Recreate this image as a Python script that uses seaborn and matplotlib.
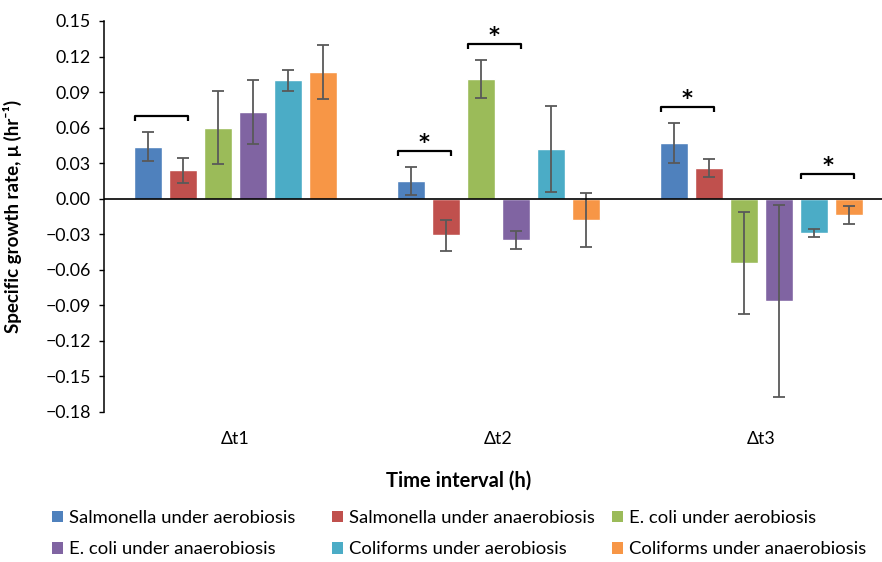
import numpy as np
import pandas as pd
import matplotlib
matplotlib.use("Agg")
import matplotlib.pyplot as plt
import matplotlib.patches as mpatches
from matplotlib.ticker import FuncFormatter, FixedLocator
import seaborn as sns

# ---------------- data ----------------
intervals = ["Δt1", "Δt2", "Δt3"]
series = [
    "Salmonella under aerobiosis",
    "Salmonella under anaerobiosis",
    "E. coli under aerobiosis",
    "E. coli under anaerobiosis",
    "Coliforms under aerobiosis",
    "Coliforms under anaerobiosis",
]
colors = ["#4F81BD", "#C0504D", "#9BBB59", "#8064A2", "#4BACC6", "#F79646"]

sal_aer = [0.044, 0.015, 0.047]
sal_anaer = [0.024, -0.031, 0.026]
eco_aer = [0.060, 0.101, -0.054]
eco_anaer = [0.073, -0.035, -0.086]
col_aer = [0.100, 0.042, -0.029]
col_anaer = [0.107, -0.018, -0.014]

sal_aer_err = [0.012, 0.012, 0.017]
sal_anaer_err = [0.0105, 0.013, 0.0076]
eco_aer_err = [0.031, 0.016, 0.043]
eco_anaer_err = [0.027, 0.0076, 0.081]
col_aer_err = [0.009, 0.036, 0.0034]
col_anaer_err = [0.023, 0.0225, 0.0076]

values = [sal_aer, sal_anaer, eco_aer, eco_anaer, col_aer, col_anaer]
errors = [sal_aer_err, sal_anaer_err, eco_aer_err, eco_anaer_err, col_aer_err, col_anaer_err]

# significance brackets: (interval index, series a, series b, bracket height, asterisk)
brackets = [
    (0, 0, 1, 0.0694, False),
    (1, 0, 1, 0.0400, True),
    (1, 2, 3, 0.1310, True),
    (2, 0, 1, 0.0775, True),
    (2, 4, 5, 0.0208, True),
]

y_ticks = [-0.18, -0.15, -0.12, -0.09, -0.06, -0.03, 0.00, 0.03, 0.06, 0.09, 0.12, 0.15]

# ---------------- figure ----------------
sns.set_theme(style="white")
plt.rcParams["font.family"] = ["Lato", "DejaVu Sans"]
plt.rcParams["axes.unicode_minus"] = True

W, H = 882, 562
fig = plt.figure(figsize=(W / 100, H / 100), dpi=100)
ax_left, ax_right, ax_top, ax_bottom = 104, 882, 21, 412
ax = fig.add_axes([ax_left / W, 1 - ax_bottom / H, (ax_right - ax_left) / W, (ax_bottom - ax_top) / H])

rows = []
for s, vals in zip(series, values):
    for iv, v in zip(intervals, vals):
        rows.append({"interval": iv, "series": s, "value": v})
df = pd.DataFrame(rows)

sns.barplot(data=df, x="interval", y="value", hue="series", order=intervals,
            hue_order=series, palette=colors, width=0.8, gap=0.2,
            errorbar=None, legend=False, ax=ax, saturation=1)

# error bars using bar centers
bar_containers = list(ax.containers)
bar_centers = []
bar_width = bar_containers[0].patches[0].get_width()
for i, cont in enumerate(bar_containers):
    centers = [p.get_x() + p.get_width() / 2 for p in cont.patches]
    bar_centers.append(centers)
for i, centers in enumerate(bar_centers):
    ax.errorbar(centers, values[i], yerr=errors[i], fmt="none",
                ecolor="#595959", elinewidth=1.3, capsize=4.5, capthick=1.3, zorder=3)

# axes formatting
ax.set_xlim(-0.5, -0.5 + (ax_right - ax_left) / 263.0)
ax.set_ylim(-0.18, 0.15)
ax.yaxis.set_major_locator(FixedLocator(y_ticks))
ax.yaxis.set_major_formatter(FuncFormatter(lambda v, p: f"{v:.2f}".replace("-", "\u2212")))
ax.axhline(0, color="black", lw=1.2, zorder=4)
for side in ["top", "right", "bottom"]:
    ax.spines[side].set_visible(False)
ax.spines["left"].set_color("black")
ax.spines["left"].set_linewidth(1.1)
ax.tick_params(axis="y", direction="out", length=3.5, width=1, color="black",
               pad=6, labelsize=12.8, labelcolor="black", left=True)
ax.tick_params(axis="x", length=0, pad=14, labelsize=12.8, labelcolor="black")

ax.set_ylabel("Specific growth rate, μ (hr⁻¹)", fontsize=13.5, fontweight="bold", color="black")
ax.yaxis.set_label_coords((22 - ax_left) / (ax_right - ax_left), 0.5)
ax.set_xlabel("Time interval (h)", fontsize=14.5, fontweight="bold", color="black")
ax.xaxis.label.set_va("center")
ax.xaxis.set_label_coords((459 - ax_left) / (ax_right - ax_left), (ax_bottom - 481) / (ax_bottom - ax_top))

# brackets and asterisks
px_y = 0.33 / (ax_bottom - ax_top)   # data units per pixel (y)
px_x = 1 / 263.0
leg = 5 * px_y
for g, a, b, yb, star in brackets:
    x0 = bar_centers[a][g] - bar_width / 2 + 1 * px_x
    x1 = bar_centers[b][g] + 5 * px_x
    ax.plot([x0, x0, x1, x1], [yb - leg, yb, yb, yb - leg], color="black", lw=1.6,
            solid_joinstyle="round", solid_capstyle="butt", zorder=5)
    if star:
        ax.text((x0 + x1) / 2, yb + 2 * px_y, "*", ha="center", va="baseline",
                fontsize=15, fontweight="bold", family="DejaVu Sans", color="black")

# legend: three columns of two rows
handles = [mpatches.Patch(facecolor=c, edgecolor="none") for c in colors]
col_x = [52, 332, 612]
for ci in range(3):
    fig.legend(handles=[handles[ci], handles[ci + 3]], labels=[series[ci], series[ci + 3]],
               loc="upper left", bbox_to_anchor=(col_x[ci] / W, 1 - 510 / H),
               frameon=False, fontsize=13.3, handlelength=0.62, handleheight=0.62,
               handletextpad=0.3, labelspacing=0.82, borderpad=0, borderaxespad=0,
               labelcolor="black")

fig.savefig("out.png", dpi=100)
